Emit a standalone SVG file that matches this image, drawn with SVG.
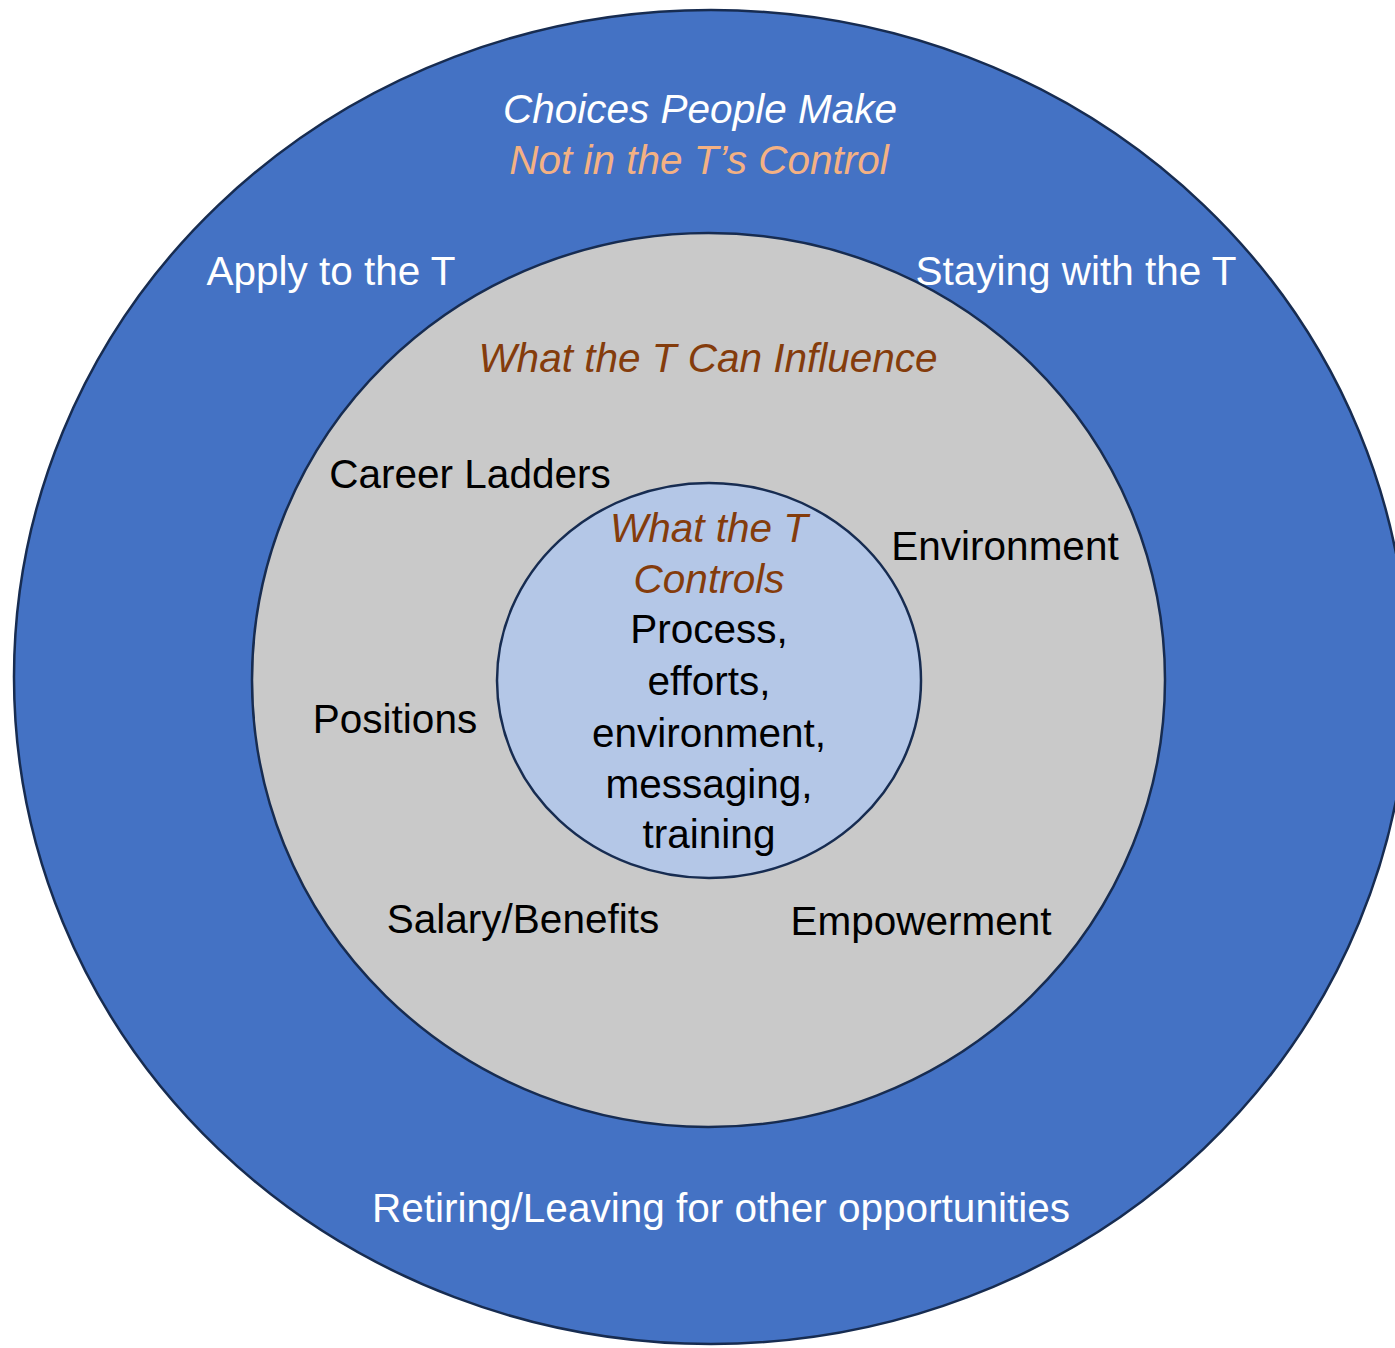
<svg xmlns="http://www.w3.org/2000/svg" width="1395" height="1348" viewBox="0 0 1395 1348">
  <style>
    .ring { stroke: #172C51; stroke-width: 2.5; }
    .t { font-family: "Liberation Sans", Arial, sans-serif; font-size: 40.5px; text-anchor: middle; }
    .w { fill: #FFFFFF; }
    .k { fill: #000000; }
    .br { fill: #843C0C; font-style: italic; }
    .pe { fill: #F4B183; font-style: italic; }
    .wi { fill: #FFFFFF; font-style: italic; }
  </style>
  <rect width="1395" height="1348" fill="#FFFFFF"/>
  <g id="outer-choices">
    <ellipse class="ring" cx="711" cy="677" rx="697" ry="667" fill="#4472C4"/>
    <text class="t wi" x="700" y="123">Choices People Make</text>
    <text class="t pe" x="699" y="174">Not in the T’s Control</text>
    <text class="t w" x="331" y="285">Apply to the T</text>
    <text class="t w" x="1076" y="285">Staying with the T</text>
    <text class="t w" x="721" y="1222">Retiring/Leaving for other opportunities</text>
  </g>
  <g id="middle-influence">
    <ellipse class="ring" cx="708.5" cy="680" rx="456.5" ry="447" fill="#C9C9C9"/>
    <text class="t br" x="708" y="372">What the T Can Influence</text>
    <text class="t k" x="470" y="488">Career Ladders</text>
    <text class="t k" x="1005" y="560">Environment</text>
    <text class="t k" x="395" y="733">Positions</text>
    <text class="t k" x="523" y="933">Salary/Benefits</text>
    <text class="t k" x="921" y="935">Empowerment</text>
  </g>
  <g id="inner-controls">
    <ellipse class="ring" cx="709" cy="680.5" rx="212" ry="197.5" fill="#B4C7E7"/>
    <text class="t br" x="709" y="542">What the T</text>
    <text class="t br" x="709" y="593">Controls</text>
    <text class="t k" x="709" y="643">Process,</text>
    <text class="t k" x="709" y="695">efforts,</text>
    <text class="t k" x="709" y="747">environment,</text>
    <text class="t k" x="709" y="798">messaging,</text>
    <text class="t k" x="709" y="848">training</text>
  </g>
  <g id="connectors"></g>
</svg>
